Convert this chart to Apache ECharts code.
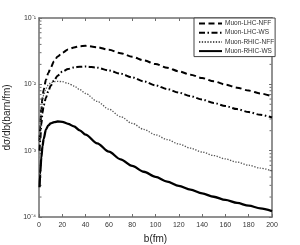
<!DOCTYPE html>
<html>
<head>
<meta charset="utf-8">
<script src="https://cdn.jsdelivr.net/npm/echarts@6/dist/echarts.min.js"></script>
<style>html,body{margin:0;padding:0;background:#fff;}#c{width:300px;height:245px;}</style>
</head>
<body>
<div id="c"></div>
<script>
const bValues = [0.5,1,2,3,4,6,8,10,13,16,20,25,30,35,40,50,60,70,80,90,100,110,120,130,140,150,160,170,180,190,200];
const lhcNFF = [1.4e-3,2.2e-3,4.2e-3,6.3e-3,8.3e-3,1.17e-2,1.48e-2,1.78e-2,2.24e-2,2.63e-2,3.0e-2,3.35e-2,3.6e-2,3.76e-2,3.8e-2,3.63e-2,3.31e-2,2.95e-2,2.6e-2,2.29e-2,2.02e-2,1.78e-2,1.57e-2,1.40e-2,1.245e-2,1.11e-2,9.93e-3,8.91e-3,8.04e-3,7.28e-3,6.61e-3];
const lhcWS = [1.0e-3,1.4e-3,2.5e-3,3.7e-3,4.8e-3,6.3e-3,7.9e-3,9.5e-3,1.15e-2,1.35e-2,1.55e-2,1.7e-2,1.8e-2,1.84e-2,1.862e-2,1.778e-2,1.622e-2,1.445e-2,1.274e-2,1.109e-2,9.66e-3,8.51e-3,7.5e-3,6.64e-3,5.89e-3,5.25e-3,4.7e-3,4.23e-3,3.82e-3,3.47e-3,3.16e-3];
const rhicNFF = [1.4e-3,2.5e-3,4.2e-3,5.6e-3,6.9e-3,8.7e-3,9.8e-3,1.05e-2,1.1e-2,1.11e-2,1.096e-2,1.035e-2,9.44e-3,8.32e-3,7.28e-3,5.52e-3,4.22e-3,3.26e-3,2.58e-3,2.09e-3,1.74e-3,1.47e-3,1.26e-3,1.09e-3,9.55e-4,8.43e-4,7.5e-4,6.71e-4,6.04e-4,5.46e-4,4.95e-4];
const rhicWS = [2.8e-4,4.5e-4,7.9e-4,1.17e-3,1.5e-3,2.1e-3,2.4e-3,2.57e-3,2.69e-3,2.75e-3,2.72e-3,2.54e-3,2.32e-3,2.02e-3,1.74e-3,1.29e-3,9.66e-4,7.41e-4,5.89e-4,4.81e-4,4.02e-4,3.42e-4,2.95e-4,2.58e-4,2.27e-4,2.02e-4,1.81e-4,1.63e-4,1.48e-4,1.35e-4,1.23e-4];
const seriesNames = ['Muon-LHC-NFF','Muon-LHC-WS','Muon-RHIC-NFF','Muon-RHIC-WS'];
const xTicks = [0,20,40,60,80,100,120,140,160,180,200];
const yTickLabels = {'0.0001':'10⁻⁴','0.001':'10⁻³','0.01':'10⁻²','0.1':'10⁻¹'};
const minorTickValues = [2e-4,3e-4,4e-4,5e-4,6e-4,7e-4,8e-4,9e-4,2e-3,3e-3,4e-3,5e-3,6e-3,7e-3,8e-3,9e-3,2e-2,3e-2,4e-2,5e-2,6e-2,7e-2,8e-2,9e-2];

const pair = arr => bValues.map((b,i)=>[b,arr[i]]);
const FONT = 'Liberation Sans';
const axisColor = '#6e6e6e';

const chart = echarts.init(document.getElementById('c'), null, {renderer:'canvas'});
const mkX = (pos, show) => ({
  type:'value', position:pos, min:0, max:200, interval:20,
  axisLine:{show:true, onZero:false, lineStyle:{color:axisColor, width:1.5}},
  axisTick:{show:true, inside:true, length:3, lineStyle:{color:axisColor}},
  axisLabel:{show:show, margin:5, fontSize:7, color:'#333', fontFamily:FONT},
  splitLine:{show:false},
  name: show ? 'b(fm)' : '', nameLocation:'middle', nameGap:15,
  nameTextStyle:{fontSize:10, color:'#222', fontFamily:FONT}
});
const mkY = (pos, show) => ({
  type:'log', logBase:10, position:pos, min:1e-4, max:1e-1,
  axisLine:{show:true, onZero:false, lineStyle:{color:axisColor, width:1.5}},
  axisTick:{show:true, inside:true, length:3, lineStyle:{color:axisColor}},
  axisLabel:{show:show, margin:3, fontSize:7, color:'#333', fontFamily:FONT,
    formatter: v => yTickLabels[String(+v.toPrecision(3))] || ''},
  splitLine:{show:false},
  name: show ? 'dσ/db(barn/fm)' : '', nameLocation:'middle', nameGap:21,
  nameTextStyle:{fontSize:10, color:'#222', fontFamily:FONT}
});

const lineSeries = (name, data, color, width, type) => ({
  name, type:'line', data:pair(data), symbol:'none', smooth:0.3, smoothMonotone:'x',
  xAxisIndex:0, yAxisIndex:0,
  lineStyle:{color, width, type}, itemStyle:{color}
});

chart.setOption({
  animation:false,
  grid:{left:39, right:28, top:18, bottom:28, containLabel:false, outerBoundsMode:'none'},
  xAxis:[mkX('bottom', true), mkX('top', false)],
  yAxis:[mkY('left', true), mkY('right', false)],
  legend:{
    orient:'vertical', left:194, top:18, width:78,
    backgroundColor:'#fff', borderColor:'#444', borderWidth:1,
    padding:[2,1,2,4], itemGap:2.2, itemWidth:23, itemHeight:7,
    itemStyle:{color:'transparent', borderWidth:0, opacity:0},
    textStyle:{fontSize:6.5, color:'#333', fontFamily:FONT, padding:[0,0,0,-2]},
    data:seriesNames
  },
  series:[
    lineSeries(seriesNames[0], lhcNFF, '#000', 2, [6,3.5]),
    lineSeries(seriesNames[1], lhcWS, '#000', 2, [6,2.5,1.5,2.5]),
    lineSeries(seriesNames[2], rhicNFF, '#555', 1.3, [1.3,1.5]),
    lineSeries(seriesNames[3], rhicWS, '#000', 2.3, 'solid'),
    {
      type:'custom', xAxisIndex:0, yAxisIndex:0, silent:true,
      data: minorTickValues.map(v=>[0,v]),
      renderItem:(params, api) => {
        const v = api.value(1);
        const pl = api.coord([0, v]);
        const pr = api.coord([200, v]);
        return {type:'group', children:[
          {type:'line', shape:{x1:pl[0]+0.5, y1:pl[1], x2:pl[0]+2.5, y2:pl[1]}, style:{stroke:axisColor, lineWidth:1}},
          {type:'line', shape:{x1:pr[0]-0.5, y1:pr[1], x2:pr[0]-2.5, y2:pr[1]}, style:{stroke:axisColor, lineWidth:1}}
        ]};
      }
    }
  ]
});
</script>
</body>
</html>
